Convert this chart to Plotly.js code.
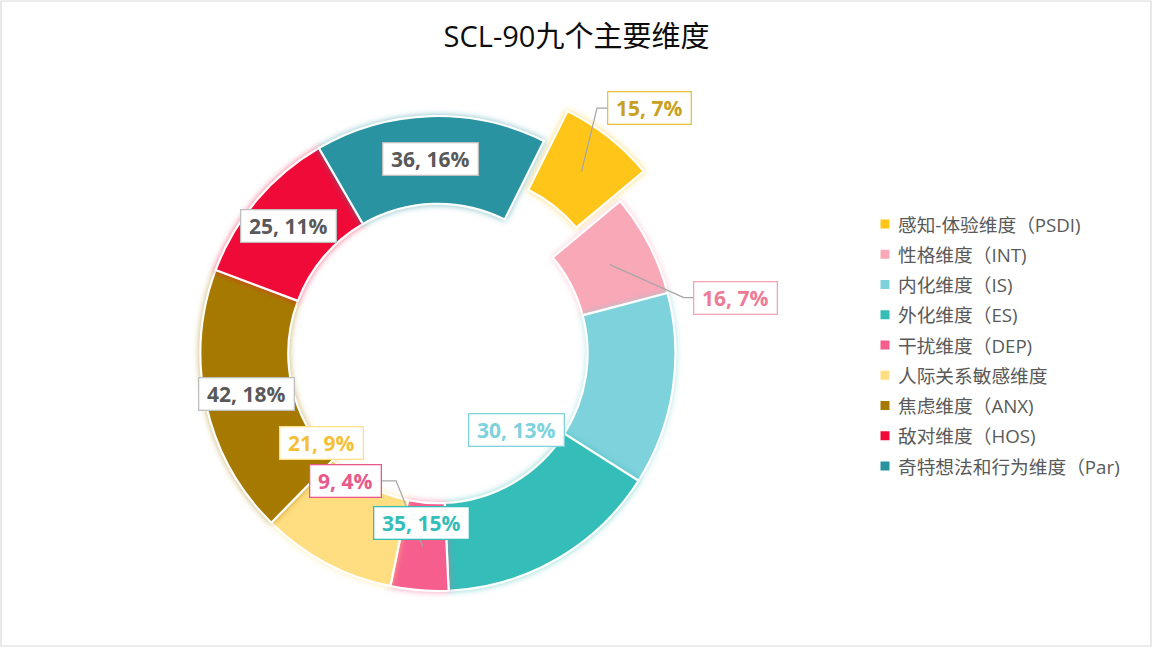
<!DOCTYPE html>
<html><head><meta charset="utf-8">
<script src="https://cdn.plot.ly/plotly-3.0.1.min.js"></script>
<style>html,body{margin:0;padding:0;background:#fff;overflow:hidden}#chart{width:1153px;height:662px}</style>
</head><body><div id="chart"></div>
<script>
// ---- data ----
const chartTitle = "SCL-90九个主要维度";
const categories = ["感知-体验维度（PSDI)", "性格维度（INT)", "内化维度（IS)", "外化维度（ES)", "干扰维度（DEP)", "人际关系敏感维度", "焦虑维度（ANX)", "敌对维度（HOS)", "奇特想法和行为维度（Par)"];
const values = [15, 16, 30, 35, 9, 21, 42, 25, 36];
const sliceColors = ["#FFC519", "#F9A8B8", "#7ED2DC", "#35BDB9", "#F65E8E", "#FFDE82", "#A67A00", "#F00A38", "#2A93A1"];
const pulls = [0.16, 0, 0, 0, 0, 0, 0, 0, 0];

// ---- styles / placement (not data) ----
const labelTextColors = ["#C9A020", "#EE7B96", "#7ED2DC", "#35BDB9", "#E8588A", "#F5BF38", "#595959", "#595959", "#595959"];
const labelBorderColors = ["#E8C23C", "#F4A5B5", "#7ED2DC", "#35BDB9", "#E8588A", "#FFE08A", "#BFBFBF", "#BFBFBF", "#BFBFBF"];
// angle offset from slice mid (deg), radius as fraction of outer radius, leader side
const labelPlace = [
  {dA: 2.4, rf: 1.363, leader: "left"},
  {dA: 16.7, rf: 1.276, leader: "left"},
  {dA: 35.3, rf: 0.463, leader: null},
  {dA: 35.8, rf: 0.717, leader: null},
  {dA: 31.6, rf: 0.664, leader: "right"},
  {dA: 24.5, rf: 0.620, leader: null},
  {dA: 0.5, rf: 0.825, leader: null},
  {dA: 0.3, rf: 0.826, leader: null},
  {dA: -0.3, rf: 0.819, leader: null}
];

const W = 1153, H = 662;
const rotation = 26.5, hole = 0.63;
const domX = [0.1409, 0.6188], domY = [0.0498, 0.8822];

const total = values.reduce((a, b) => a + b, 0);
const maxPull = Math.max(...pulls);
const cx = (domX[0] + domX[1]) / 2 * W;
const cy = (1 - (domY[0] + domY[1]) / 2) * H;
const R = Math.min((domX[1] - domX[0]) * W, (domY[1] - domY[0]) * H) / (2 + 2 * maxPull);
const px = x => x / W, py = y => 1 - y / H;
const polar = (angDeg, rho) => {
  const a = angDeg * Math.PI / 180;
  return [cx + rho * Math.sin(a), cy - rho * Math.cos(a)];
};

const annotations = [];
const shapes = [];
let cum = 0;
values.forEach((v, i) => {
  const start = rotation + cum / total * 360;
  cum += v;
  const end = rotation + cum / total * 360;
  const mid = (start + end) / 2;
  const pct = Math.round(v / total * 100);
  const txt = v + ", " + pct + "%";
  const boxW = 12 * txt.length + 12, boxH = 33;
  const pl = labelPlace[i];
  const [lx, ly] = polar(mid + pl.dA, pl.rf * R);
  annotations.push({
    xref: "paper", yref: "paper", x: px(lx), y: py(ly), xanchor: "center", yanchor: "middle",
    text: "<b>" + txt + "</b>", showarrow: false,
    font: {family: "Open Sans, Noto Sans CJK SC, sans-serif", size: 21, color: labelTextColors[i]},
    bgcolor: "#FFFFFF", bordercolor: labelBorderColors[i], borderwidth: 1.3, borderpad: 3,
    width: boxW - 8, height: boxH - 8
  });
  if (pl.leader) {
    const [sx, sy] = polar(mid, (R * (1 + hole) / 2) + pulls[i] * R);
    const ex = pl.leader === "left" ? lx - boxW / 2 : lx + boxW / 2;
    const elx = pl.leader === "left" ? ex - 10 : ex + 15;
    shapes.push({
      type: "path", xref: "paper", yref: "paper",
      path: `M ${px(sx)},${py(sy)} L ${px(elx)},${py(ly)} L ${px(ex)},${py(ly)}`,
      line: {color: "#A6A6A6", width: 1.2}
    });
  }
});

// manual legend
categories.forEach((c, i) => {
  const ry = 224 + i * 30.25;
  shapes.push({type: "rect", xref: "paper", yref: "paper",
    x0: px(880.5), x1: px(889.5), y0: py(ry + 4.5), y1: py(ry - 4.5),
    fillcolor: sliceColors[i], line: {width: 0}});
  annotations.push({xref: "paper", yref: "paper", x: px(896), y: py(ry), xanchor: "left", yanchor: "middle",
    text: c, showarrow: false,
    font: {family: "Open Sans, Noto Sans CJK SC, sans-serif", size: 18.7, color: "#595959"}});
});

// chart border
shapes.push({type: "rect", xref: "paper", yref: "paper", x0: px(1), x1: px(1151), y0: py(646), y1: py(1),
  line: {color: "#D9D9D9", width: 1.2}, fillcolor: "rgba(0,0,0,0)", layer: "below"});

const trace = {
  type: "pie", labels: categories, values: values, sort: false, direction: "clockwise",
  rotation: rotation, hole: hole, pull: pulls, textinfo: "none", hoverinfo: "label+value+percent",
  marker: {colors: sliceColors, line: {color: "#FFFFFF", width: 2.2}},
  domain: {x: domX, y: domY}, showlegend: false
};

const layout = {
  width: W, height: H, margin: {l: 0, r: 0, t: 0, b: 0},
  paper_bgcolor: "#FFFFFF", plot_bgcolor: "#FFFFFF",
  title: {text: chartTitle, x: 0.5, xanchor: "center", xref: "paper", y: py(37), yanchor: "middle", yref: "paper",
    font: {family: "Open Sans, Noto Sans CJK SC, sans-serif", size: 29, color: "#0D0D0D"}},
  annotations: annotations, shapes: shapes, showlegend: false
};

Plotly.newPlot("chart", [trace], layout, {displayModeBar: false, staticPlot: true}).then(() => {
  document.querySelectorAll("#chart .slice path.surface").forEach((p, i) => {
    p.style.filter = "drop-shadow(0 0 3px " + sliceColors[i % sliceColors.length] + "99)";
  });
});
</script>
</body></html>
